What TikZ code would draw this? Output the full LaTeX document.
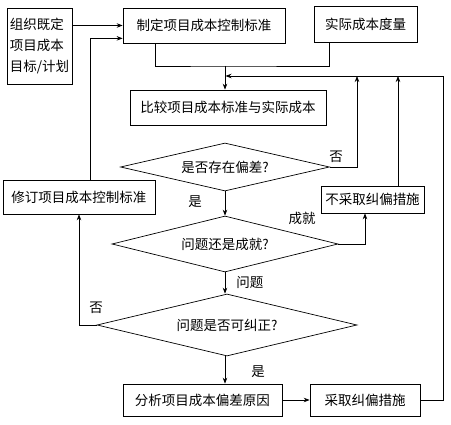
\documentclass[tikz,border=0pt]{standalone}
\usepackage{fontspec}
\setmainfont{Noto Sans CJK SC}
\usetikzlibrary{shapes.geometric,arrows.meta,calc}
\begin{document}
\begin{tikzpicture}[x=1pt,y=-1pt,line width=0.7pt,
  font=\fontsize{13.5}{21}\selectfont,
  box/.style={draw,rectangle,inner sep=0pt},
  dia/.style={draw,diamond,inner sep=0pt},
  arr/.style={-{Stealth[length=6pt,width=4.5pt]}},
  lab/.style={inner sep=0pt}]
\useasboundingbox (0,0) rectangle (451,425);
% boxes
\node[box,minimum width=65pt,minimum height=76pt,align=left] (A) at (39.5,46) {组织既定\\项目成本\\目标/计划};
\node[box,minimum width=162pt,minimum height=35pt] (B) at (204,25.5) {制定项目成本控制标准};
\node[box,minimum width=103pt,minimum height=36pt] (C) at (365.5,24) {实际成本度量};
\node[box,minimum width=196pt,minimum height=35pt] (E) at (228,107.5) {比较项目成本标准与实际成本};
\node[dia,minimum width=209pt,minimum height=48pt,aspect=4.35] (D1) at (225,167) {是否存在偏差?};
\node[box,minimum width=152pt,minimum height=34pt] (D) at (79,197) {修订项目成本控制标准};
\node[box,minimum width=103pt,minimum height=27pt] (F) at (372.5,199.5) {不采取纠偏措施};
\node[dia,minimum width=226pt,minimum height=56pt,aspect=4.04] (D2) at (225,244) {问题还是成就?};
\node[dia,minimum width=260pt,minimum height=62pt,aspect=4.2] (D3) at (227,325) {问题是否可纠正?};
\node[box,minimum width=159pt,minimum height=32pt] (G) at (202.5,400) {分析项目成本偏差原因};
\node[box,minimum width=110pt,minimum height=32pt] (H) at (365,400) {采取纠偏措施};
% labels
\node[lab] (l1) at (336,157) {否};
\node[lab] (l2) at (195,202) {是};
\node[lab] (l3) at (302,218) {成就};
\node[lab] (l4) at (250,282) {问题};
\node[lab] (l5) at (96,308) {否};
\node[lab] (l6) at (258,372) {是};
% coordinates
\coordinate (m1) at (225,66);
\coordinate (m2) at (225.5,76);
\coordinate (r) at (443,76);
\coordinate (u1) at (357,76);
% connectors
\draw[arr] (B.west -| A.east) -- (B.west);
\draw[arr] ([xshift=11pt]D.north) |- ([yshift=5pt]B.south west);
\draw ([xshift=-49pt]B.south) |- (m1) -| ([xshift=-36.5pt]C.south);
\draw[arr] (m1) -- (m1 |- E.north);
\draw[arr] (H.east) -| (r) -- (m2);
\draw[arr] (D1.east) -| (u1);
\draw[arr] ([xshift=25.5pt]F.north) -- ([xshift=25.5pt]F.north |- m2);
\draw[arr] (D1.south) -- (D2.north);
\draw[arr] (D2.east) -| ([xshift=-7.5pt]F.south);
\draw[arr] (D2.south) -- (D3.north -| D2.south);
\draw[arr] (D3.west) -| (D.south);
\draw[arr] (D3.south -| D2.south) -- (D2.south |- G.north);
\draw[arr] (G.east) -- (H.west);
\end{tikzpicture}
\end{document}
